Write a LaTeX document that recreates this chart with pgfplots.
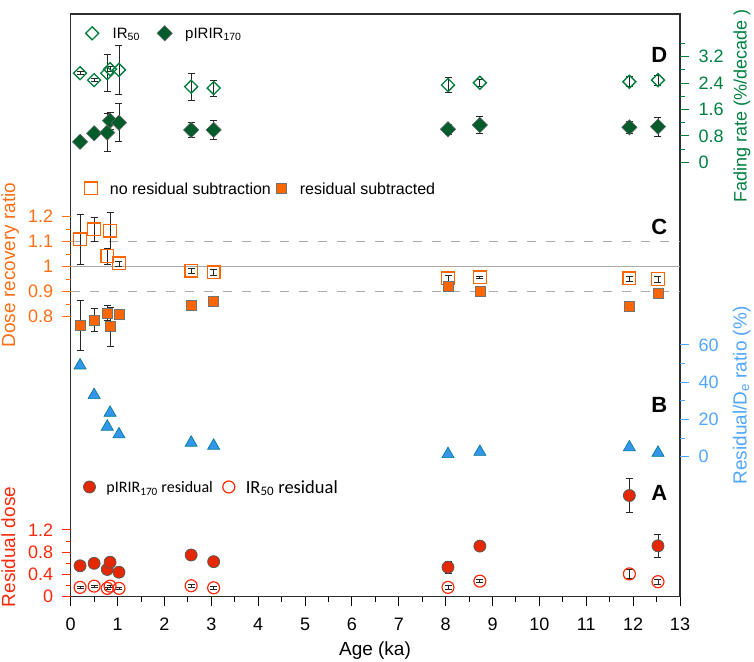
\documentclass[border=0pt]{standalone}
\usepackage{pgfplots}
\pgfplotsset{compat=1.18}
\usepackage{pgfplotstable}
\usepackage{fontspec}
\setmainfont{Liberation Sans}
\newfontfamily\carlito{Carlito}
\definecolor{tgreen}{RGB}{0,128,64}
\definecolor{mgreen}{RGB}{0,125,60}
\definecolor{dgreen}{RGB}{0,92,42}
\definecolor{torange}{RGB}{255,110,20}
\definecolor{morange}{RGB}{255,102,0}
\definecolor{tred}{RGB}{255,40,10}
\definecolor{mred}{RGB}{230,40,0}
\definecolor{tblue}{RGB}{80,165,255}
\definecolor{mblue}{RGB}{50,150,235}
\definecolor{eblue}{RGB}{0,120,140}
\definecolor{lgray}{RGB}{170,170,170}
\definecolor{framec}{RGB}{45,45,45}

% Panel D: fading rate (%/decade)
\pgfplotstableread{
x y e
0.20 2.70 0.05
0.50 2.49 0.04
0.78 2.70 0.56
0.84 2.82 0.08
1.03 2.80 0.73
2.57 2.29 0.41
3.05 2.25 0.24
8.05 2.34 0.22
8.73 2.41 0.11
11.92 2.44 0.15
12.53 2.49 0.15
}\fadIR
\pgfplotstableread{
x y e
0.20 0.62 0.03
0.50 0.88 0.05
0.78 0.90 0.58
0.84 1.26 0.25
1.03 1.20 0.57
2.57 0.98 0.22
3.05 0.98 0.30
8.05 1.00 0.15
8.73 1.13 0.25
11.92 1.06 0.19
12.53 1.08 0.29
}\fadPI
% Panel C: dose recovery ratio
\pgfplotstableread{
x y e
0.20 1.110 0.100
0.50 1.150 0.047
0.78 1.043 0.032
0.84 1.144 0.075
1.03 1.013 0.010
2.57 0.984 0.010
3.05 0.978 0.012
8.05 0.953 0.012
8.73 0.958 0.005
11.92 0.953 0.010
12.53 0.951 0.012
}\drNo
\pgfplotstableread{
x y e
0.20 0.767 0.100
0.50 0.787 0.046
0.78 0.814 0.030
0.84 0.760 0.077
1.03 0.811 0.010
2.57 0.847 0.010
3.05 0.863 0.010
8.05 0.920 0.010
8.73 0.900 0.008
11.92 0.843 0.010
12.53 0.893 0.010
}\drSub
% Panel B: residual/De ratio (%)
\pgfplotstableread{
x y
0.20 49.0
0.50 33.1
0.78 16.1
0.84 23.6
1.03 12.0
2.57 7.5
3.05 5.9
8.05 1.4
8.73 2.6
11.92 5.0
12.53 2.1
}\ratio
% Panel A: residual dose
\pgfplotstableread{
x y e
0.20 0.556 0.05
0.50 0.600 0.05
0.78 0.490 0.06
0.84 0.620 0.06
1.03 0.440 0.02
2.57 0.750 0.06
3.05 0.630 0.04
8.05 0.530 0.11
8.73 0.910 0.02
11.92 1.820 0.30
12.53 0.915 0.20
}\resPI
\pgfplotstableread{
x y e
0.20 0.168 0.01
0.50 0.190 0.02
0.78 0.150 0.02
0.84 0.190 0.02
1.03 0.150 0.01
2.57 0.197 0.03
3.05 0.160 0.03
8.05 0.168 0.03
8.73 0.280 0.03
11.92 0.410 0.08
12.53 0.270 0.04
}\resIR

\pgfplotsset{
  base/.style={scale only axis, width=609.3pt, height=582.7pt, xmin=0, xmax=13, clip=false,
    tick align=outside, major tick length=9pt, minor tick length=5pt,
    /pgf/number format/assume math mode=true,
    ticklabel style={font=\fontsize{18}{20}\selectfont}},
  over/.style={base, axis line style={draw=none}, xtick=\empty},
  ebar/.style={forget plot, draw=none, mark=none, error bars/.cd, y dir=both, y explicit,
    error bar style={draw=black!85, solid, line width=0.8pt},
    error mark options={draw=black!85, solid, rotate=90, mark size=3.5pt, line width=0.8pt}},
  leg/.style 2 args={legend columns=2,
    legend style={draw=none, fill=none, at={#1}, anchor=west, inner xsep=0pt, inner ysep=0pt,
      nodes={inner sep=0pt, text depth=0pt}},
    legend image code/.code={\path[draw=none,fill=none] (-8pt,-6pt) rectangle (#2,6pt); \draw[##1] plot coordinates {(0pt,0pt)};}},
}

\begin{document}
\begin{tikzpicture}
\useasboundingbox (-70.7pt,-64.3pt) rectangle (683.3pt,596.7pt);

% frame and x axis
\begin{axis}[base, ymin=0, ymax=1, ytick=\empty,
  xtick={0,1,...,13}, minor xtick={0.5,1.5,...,12.5}, xtick pos=bottom,
  xticklabel style={yshift=-9pt},
  axis line style={framec, line width=1.2pt}, tick style={black, line width=1pt}]
\end{axis}

% Panel A: residual dose
\begin{axis}[over, ymin=0, ymax=10.48, ytick={0,0.4,0.8,1.2}, minor ytick={0.2,0.6,1.0},
  ytick pos=left, tick style={tred, line width=1pt}, yticklabel style={text=tred, xshift=-5pt},
  leg={(axis description cs:0.0174,0.1883)}{17pt}, legend style={font=\carlito}]
\addplot[only marks, mark=*, mark size=6pt, draw=black!65, fill=mred, line width=0.8pt] table[x=x,y=y] {\resPI};
\addlegendentry{\makebox[114.3pt][l]{\fontsize{16}{18}\selectfont pIRIR\textsubscript{170} residual}}
\addplot[only marks, mark=o, mark size=6pt, draw=tred, line width=1.2pt] table[x=x,y=y] {\resIR};
\addlegendentry{\fontsize{18.5}{20}\selectfont IR\textsubscript{50} residual}
\addplot[ebar] table[x=x,y=y,y error=e] {\resPI};
\addplot[ebar] table[x=x,y=y,y error=e] {\resIR};
\end{axis}

% Panel B: residual/De ratio
\begin{axis}[over, ymin=-75.19, ymax=237.75, ytick={0,20,40,60}, minor ytick={10,30,50},
  ytick pos=right, tick style={tblue, line width=1pt}, yticklabel style={text=tblue, xshift=6pt}]
\addplot[only marks, mark=triangle*, mark size=7pt, draw=eblue, fill=mblue, line width=0.6pt] table[x=x,y=y] {\ratio};
\end{axis}

% Panel C: dose recovery ratio
\begin{axis}[over, ymin=-0.32, ymax=2.0108, ytick={0.8,0.9,1,1.1,1.2}, minor ytick={0.85,0.95,1.05,1.15},
  ytick pos=left, tick style={torange, line width=1pt}, yticklabel style={text=torange, xshift=-5pt},
  leg={(axis description cs:0.0197,0.7009)}{19pt}, legend style={font=\fontsize{16}{18}\selectfont}]
\addplot[lgray, line width=1.2pt, dash pattern=on 9pt off 10pt, forget plot] coordinates {(0,1.1) (13,1.1)};
\addplot[lgray, line width=1.2pt, dash pattern=on 9pt off 10pt, forget plot] coordinates {(0,0.9) (13,0.9)};
\addplot[lgray, line width=1.2pt, forget plot] coordinates {(0,1) (13,1)};
\addplot[only marks, mark=square, mark size=6.3pt, draw=morange, line width=1.3pt] table[x=x,y=y] {\drNo};
\addlegendentry{\makebox[163pt][l]{no residual subtraction}}
\addplot[only marks, mark=square*, mark size=5pt, draw=black!55, fill=morange, line width=0.7pt] table[x=x,y=y] {\drSub};
\addlegendentry{residual subtracted}
\addplot[ebar] table[x=x,y=y,y error=e] {\drNo};
\addplot[ebar] table[x=x,y=y,y error=e] {\drSub};
\end{axis}

% Panel D: fading rate
\begin{axis}[over, ymin=-13.164, ymax=4.494, ytick={0,0.8,1.6,2.4,3.2}, minor ytick={0.4,1.2,2.0,2.8,3.6},
  ytick pos=right, tick style={tgreen, line width=1pt}, yticklabel style={text=tgreen, xshift=6pt},
  leg={(axis description cs:0.0218,0.9669)}{20.5pt}, legend style={font=\fontsize{15}{17}\selectfont}]
\addplot[only marks, mark=square, mark size=4.6pt, mark options={rotate=45}, draw=mgreen, line width=1.3pt] table[x=x,y=y] {\fadIR};
\addlegendentry{\makebox[44pt][l]{IR\textsubscript{50}}}
\addplot[only marks, mark=square*, mark size=5.4pt, mark options={rotate=45}, draw=black!60, fill=dgreen, line width=0.6pt] table[x=x,y=y] {\fadPI};
\addlegendentry{pIRIR\textsubscript{170}}
\addplot[ebar] table[x=x,y=y,y error=e] {\fadIR};
\addplot[ebar] table[x=x,y=y,y error=e] {\fadPI};
\end{axis}

% panel letters
\begin{scope}[every node/.style={font=\bfseries\fontsize{22}{24}\selectfont}]
\node at (588.6pt,541.7pt) {D};
\node at (588.6pt,370pt) {C};
\node at (588.6pt,191.7pt) {B};
\node at (588.6pt,104pt) {A};
\end{scope}

% axis titles
\node[font=\fontsize{19}{21}\selectfont, anchor=base] at (304.3pt,-58.3pt) {Age (ka)};
\node[font=\fontsize{19}{21}\selectfont, text=torange, rotate=90, anchor=base] at (-55.7pt,331.7pt) {Dose recovery ratio};
\node[font=\fontsize{19}{21}\selectfont, text=tred, rotate=90, anchor=base] at (-55.7pt,49.7pt) {Residual dose};
\node[font=\fontsize{18}{20}\selectfont, text=tgreen, rotate=90, anchor=base west] at (675.9pt,390.7pt) {Fading rate (\%/decade )};
\node[font=\fontsize{19}{21}\selectfont, text=tblue, rotate=90, anchor=base west] at (675.9pt,108.7pt) {Residual/D\textsubscript{e} ratio (\%)};
\end{tikzpicture}
\end{document}
